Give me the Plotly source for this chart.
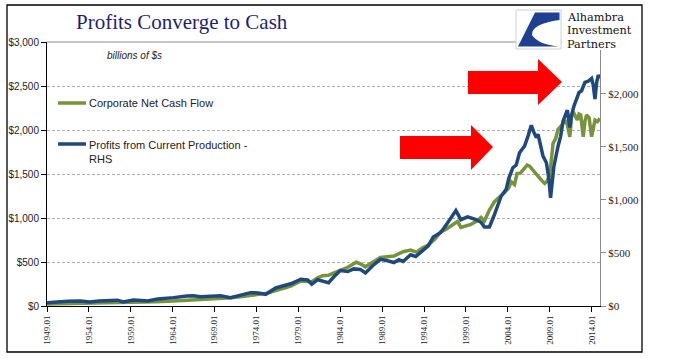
import plotly.graph_objects as go

# ---------------- data ----------------
cash_x = [1949.0, 1950.5, 1952.1, 1954.0, 1956.2, 1958.0, 1960.1, 1962.0, 1964.1, 1966.0,
          1967.3, 1968.5, 1969.7, 1971.0, 1972.3, 1973.3, 1974.3, 1975.3, 1976.5, 1977.3,
          1978.1, 1979.3, 1980.0, 1980.6, 1981.3, 1981.9, 1982.6, 1983.4, 1984.2, 1984.9,
          1985.9, 1986.4, 1987.0, 1988.1, 1988.8, 1989.6, 1990.4, 1991.5, 1992.4, 1993.1,
          1993.8, 1994.5, 1995.3, 1996.0, 1996.6, 1997.2, 1998.0, 1998.4, 1999.0, 1999.6,
          2000.2, 2000.8, 2001.2, 2001.8, 2002.4, 2003.1, 2003.6, 2004.1, 2004.4, 2004.8,
          2005.1, 2005.5, 2005.8, 2006.0, 2006.3, 2006.6, 2007.0, 2007.3, 2007.6, 2008.0,
          2008.4, 2008.7, 2009.0, 2009.4, 2009.7, 2010.0, 2010.4, 2010.8, 2011.1, 2011.4,
          2011.6, 2011.8, 2012.1, 2012.3, 2012.5, 2012.7, 2013.0, 2013.2, 2013.4, 2013.7,
          2014.0, 2014.2, 2014.4, 2014.7, 2015.0]
cash_flow = [22, 25, 26, 28, 32, 33, 38, 47, 57, 66,
             74, 78, 85, 95, 108, 122, 130, 146, 180, 200,
             227, 284, 285, 276, 320, 344, 350, 378, 415, 440,
             497, 480, 445, 515, 553, 560, 568, 617, 636, 612,
             660, 693, 760, 844, 870, 909, 960, 894, 915, 928,
             960, 1008, 966, 1091, 1185, 1242, 1290, 1340, 1412, 1380,
             1507, 1510, 1545, 1580, 1602, 1590, 1545, 1500, 1469, 1430,
             1394, 1420, 1488, 1848, 1900, 2007, 2050, 2113, 2060, 1923,
             2150, 2207, 2150, 2113, 2180, 2170, 1923, 2100, 2170, 2140,
             1923, 2050, 2113, 2094, 2132]

prof_x = [1949.0, 1950.0, 1950.6, 1951.5, 1953.0, 1954.1, 1955.2, 1956.2, 1957.4, 1958.1,
          1959.3, 1960.3, 1961.0, 1962.2, 1963.3, 1964.1, 1965.7, 1966.5, 1967.3, 1968.9,
          1969.7, 1970.9, 1972.0, 1973.3, 1974.2, 1975.1, 1976.3, 1977.3, 1978.1, 1979.3,
          1980.1, 1980.6, 1981.3, 1981.9, 1982.6, 1983.3, 1984.0, 1984.9, 1985.6, 1986.4,
          1987.0, 1987.9, 1988.8, 1989.5, 1990.4, 1991.0, 1991.5, 1992.4, 1993.0, 1993.8,
          1994.5, 1995.1, 1996.0, 1996.8, 1997.8, 1998.4, 1999.2, 2000.2, 2000.8, 2001.2,
          2001.8, 2002.4, 2002.9, 2003.2, 2003.8, 2004.1, 2004.6, 2005.0, 2005.4, 2006.0,
          2006.4, 2006.8, 2007.1, 2007.4, 2007.6, 2007.8, 2008.2, 2008.6, 2008.9, 2009.1,
          2009.3, 2009.5, 2010.0, 2010.3, 2010.6, 2011.1, 2011.4, 2011.6, 2011.9, 2012.2,
          2012.5, 2012.8, 2013.2, 2013.6, 2014.0, 2014.2, 2014.4, 2014.6, 2014.8, 2015.0]
profits = [31, 38, 41, 44, 47, 37, 48, 50, 55, 38,
           57, 52, 47, 66, 72, 79, 95, 97, 88, 98,
           96, 79, 103, 126, 123, 110, 170, 190, 210, 253,
           246, 205, 248, 235, 220, 280, 334, 325, 350, 345,
           312, 382, 440, 430, 410, 436, 420, 483, 467, 520,
           568, 650, 694, 783, 900, 814, 840, 814, 790, 745,
           745, 862, 978, 1035, 1100, 1200, 1304, 1330, 1446, 1509,
           1600, 1705, 1640, 1588, 1620, 1541, 1414, 1351, 1200, 1020,
           1200, 1319, 1509, 1600, 1746, 1847, 1683, 1800, 1888, 1950,
           2014, 2030, 2109, 2120, 2147, 2080, 1951, 2110, 2178, 2147]

x_tick_vals = [1949, 1954, 1959, 1964, 1969, 1974, 1979, 1984, 1989, 1994, 1999, 2004, 2009, 2014]
x_tick_text = ["1949.01", "1954.01", "1959.01", "1964.01", "1969.01", "1974.01", "1979.01",
               "1984.01", "1989.01", "1994.01", "1999.01", "2004.01", "2009.01", "2014.01"]
left_ticks = [0, 500, 1000, 1500, 2000, 2500, 3000]
left_tick_text = ["$0", "$500", "$1,000", "$1,500", "$2,000", "$2,500", "$3,000"]
right_ticks = [0, 500, 1000, 1500, 2000]
right_tick_text = ["$0", "$500", "$1,000", "$1,500", "$2,000"]
logo_lines = ["Alhambra", "Investment", "Partners"]

# ---------------- layout geometry ----------------
W, H = 675, 358
L, R, T, B = 47, 75, 42, 52
PW, PH = W - L - R, H - T - B


def px(x):
    return (x - L) / PW


def py(y):
    return (H - B - y) / PH


GREEN = "#77933c"
BLUE = "#1f497d"

fig = go.Figure()
fig.add_trace(go.Scatter(x=cash_x, y=cash_flow, mode="lines", name="Corporate Net Cash Flow",
                         line=dict(color=GREEN, width=3.5), yaxis="y"))
fig.add_trace(go.Scatter(x=prof_x, y=profits, mode="lines",
                         name="Profits from Current Production - RHS",
                         line=dict(color=BLUE, width=3.5), yaxis="y2"))

shapes = []
# outer frame
shapes.append(dict(type="rect", xref="paper", yref="paper", x0=px(7), x1=px(642), y0=py(352), y1=py(5),
                   line=dict(color="black", width=1.3), fillcolor="rgba(0,0,0,0)", layer="above"))
# plot top border
shapes.append(dict(type="line", xref="paper", yref="paper", x0=0, x1=1, y0=1, y1=1,
                   line=dict(color="#8c8c8c", width=1), layer="above"))


def arrow(x0, x1, xt, yb0, yb1, yh0, yh1, ytip):
    p = (f"M {px(x0)},{py(yb0)} L {px(x1)},{py(yb0)} L {px(x1)},{py(yh0)} L {px(xt)},{py(ytip)} "
         f"L {px(x1)},{py(yh1)} L {px(x1)},{py(yb1)} L {px(x0)},{py(yb1)} Z")
    return dict(type="path", xref="paper", yref="paper", path=p, fillcolor="#ff0000",
                line=dict(width=0), layer="above")


shapes.append(arrow(468, 538, 562, 71, 94, 59, 105, 82))
shapes.append(arrow(400, 471, 493, 136, 159, 125, 170, 147))

# legend samples
shapes.append(dict(type="line", xref="paper", yref="paper", x0=px(58), x1=px(86), y0=py(103), y1=py(103),
                   line=dict(color=GREEN, width=3.5)))
shapes.append(dict(type="line", xref="paper", yref="paper", x0=px(58), x1=px(86), y0=py(144), y1=py(144),
                   line=dict(color=BLUE, width=3.5)))

# logo
shapes.append(dict(type="rect", xref="paper", yref="paper", x0=px(516), x1=px(561), y0=py(49), y1=py(10),
                   fillcolor="white", line=dict(color="#d0d0d0", width=1), layer="above"))
shapes.append(dict(type="rect", xref="paper", yref="paper", x0=px(562), x1=px(641), y0=py(50), y1=py(8),
                   fillcolor="white", line=dict(width=0), layer="above"))
logo = (f"M {px(535)},{py(12.5)} L {px(559.5)},{py(12.5)} L {px(559.5)},{py(20)} "
        f"Q {px(531)},{py(24)} {px(532)},{py(35)} Q {px(538)},{py(44.5)} {px(559.5)},{py(46.5)} "
        f"L {px(518)},{py(46.5)} Z")
shapes.append(dict(type="path", xref="paper", yref="paper", path=logo, fillcolor="#1f3f91",
                   line=dict(width=0), layer="above"))

annotations = [
    dict(text="Profits Converge to Cash", xref="paper", yref="paper", x=px(182), y=py(22),
         showarrow=False, font=dict(family="Liberation Serif", size=21, color="#1f1f6e"),
         xanchor="center", yanchor="middle"),
    dict(text="<i>billions of $s</i>", xref="paper", yref="paper", x=px(105), y=py(56),
         showarrow=False, font=dict(family="Liberation Sans", size=10, color="#222222"),
         xanchor="left", yanchor="middle"),
    dict(text="Corporate Net Cash Flow", xref="paper", yref="paper", x=px(87), y=py(103),
         showarrow=False, font=dict(family="Liberation Sans", size=11, color="#222222"),
         xanchor="left", yanchor="middle"),
    dict(text="Profits from Current Production -<br>RHS", xref="paper", yref="paper", x=px(87), y=py(137),
         showarrow=False, font=dict(family="Liberation Sans", size=11, color="#222222"),
         xanchor="left", yanchor="top", align="left"),
]
for i, line in enumerate(logo_lines):
    annotations.append(dict(text=line, xref="paper", yref="paper", x=px(565), y=py(17.5 + 13.5 * i),
                            showarrow=False, font=dict(family="DejaVu Serif", size=11.3, color="#111111"),
                            xanchor="left", yanchor="middle"))

fig.update_layout(
    width=W, height=H,
    margin=dict(l=L, r=R, t=T, b=B, pad=0, autoexpand=False),
    paper_bgcolor="white", plot_bgcolor="white",
    showlegend=False, hovermode=False,
    shapes=shapes, annotations=annotations,
    xaxis=dict(range=[1949, 2015], tickvals=x_tick_vals, ticktext=x_tick_text, tickangle=-90,
               showgrid=False, zeroline=False, showline=True, linecolor="black", linewidth=1,
               ticks="outside", ticklen=5, tickcolor="black", automargin=False,
               tickfont=dict(family="Liberation Serif", size=9, color="#222222")),
    yaxis=dict(range=[0, 3000], tickvals=left_ticks, ticktext=left_tick_text,
               showgrid=True, gridcolor="#b0b0b0", griddash="3px,2px", gridwidth=1,
               zeroline=False, showline=True, linecolor="black", linewidth=1,
               ticks="outside", ticklen=5, tickcolor="black", automargin=False,
               tickfont=dict(family="Liberation Sans", size=10, color="#222222")),
    yaxis2=dict(range=[0, 2490], tickvals=right_ticks, ticktext=right_tick_text,
                overlaying="y", side="right", showgrid=False, zeroline=False,
                showline=True, linecolor="#8c8c8c", linewidth=1, automargin=False,
                ticks="outside", ticklen=5, tickcolor="#8c8c8c",
                tickfont=dict(family="Liberation Serif", size=11, color="#222222")),
)

fig.write_html("out.html", config={"displayModeBar": False},
               post_script="document.body.style.margin='0';document.body.style.overflow='hidden';")
